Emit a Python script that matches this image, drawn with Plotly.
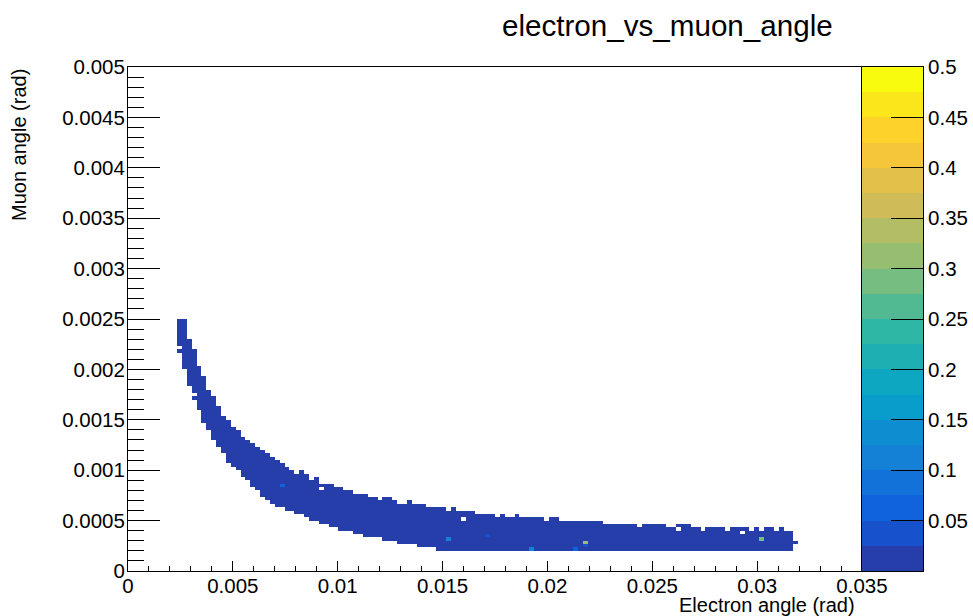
import numpy as np
import plotly.graph_objects as go

# ---------------- data ----------------
TITLE = "electron_vs_muon_angle"
X_TITLE = "Electron angle (rad)"
Y_TITLE = "Muon angle (rad)"

NBINS_X, X_MIN, X_MAX = 150, 0.0, 0.035
NBINS_Y, Y_MIN, Y_MAX = 150, 0.0, 0.005

# occupied band: per x-bin column, first filled y-bin and (exclusive) top y-bin
FIRST_COL = 10
BAND_LOW = [67, 60, 55, 53, 48, 44, 42, 39, 37, 35,
            32, 31, 30, 28, 27, 25, 24, 22, 21, 20,
            19, 19, 18, 18, 17, 17, 16, 15, 15, 14,
            14, 13, 13, 12, 12, 12, 11, 11, 10, 10,
            10, 10, 9, 9, 9, 8, 8, 8, 8, 7,
            7, 7, 7] + [6] * 73 + [8]
BAND_HIGH = [75, 75, 69, 66, 61, 58, 54, 52, 49, 46,
             45, 43, 42, 40, 39, 38, 37, 36, 35, 34,
             33, 32, 31, 30, 29, 30, 29, 27, 28, 26,
             26, 26, 25, 25, 24, 24, 23, 23, 23, 22,
             22, 21, 22, 22, 21, 20, 20, 21, 20, 20,
             20, 19, 19, 19, 19, 18, 19, 18, 18, 18,
             18, 17, 17, 17, 17, 16, 17, 16, 16, 17,
             16, 16, 16, 16, 16, 15, 16, 16, 15, 15,
             15, 15, 15, 15, 15, 15, 15, 14, 14, 14,
             14, 14, 14, 14, 13, 14, 14, 14, 14, 14,
             13, 13, 14, 14, 14, 13, 13, 12, 13, 13,
             13, 13, 12, 13, 13, 13, 13, 12, 13, 12,
             13, 13, 12, 13, 12, 12, 9]
BASE_VALUE = 0.01
EXTRA_CELLS = [(10, 65), (13, 51)]
HOLES = [(39, 24), (68, 15), (112, 12), (125, 11)]
SPECIAL_CELLS = [(31, 25, 0.055), (65, 9, 0.11), (73, 10, 0.04), (82, 6, 0.12),
                 (91, 6, 0.06), (93, 8, 0.31), (93, 7, 0.03), (129, 9, 0.29)]

X_TICKS = [0, 0.005, 0.01, 0.015, 0.02, 0.025, 0.03, 0.035]
X_TICK_LABELS = ["0", "0.005", "0.01", "0.015", "0.02", "0.025", "0.03", "0.035"]
Y_TICKS = [0, 0.0005, 0.001, 0.0015, 0.002, 0.0025, 0.003, 0.0035, 0.004, 0.0045, 0.005]
Y_TICK_LABELS = ["0", "0.0005", "0.001", "0.0015", "0.002", "0.0025", "0.003",
                 "0.0035", "0.004", "0.0045", "0.005"]
Z_MIN, Z_MAX, N_LEVELS = 0.0, 0.5, 20
Z_TICKS = [0.05, 0.1, 0.15, 0.2, 0.25, 0.3, 0.35, 0.4, 0.45, 0.5]
Z_TICK_LABELS = ["0.05", "0.1", "0.15", "0.2", "0.25", "0.3", "0.35", "0.4", "0.45", "0.5"]

# ---------------- histogram ----------------
x_edges = np.linspace(X_MIN, X_MAX, NBINS_X + 1)
y_edges = np.linspace(Y_MIN, Y_MAX, NBINS_Y + 1)
z = np.full((NBINS_Y, NBINS_X), np.nan)
for n, (lo, hi) in enumerate(zip(BAND_LOW, BAND_HIGH)):
    z[lo:hi, FIRST_COL + n] = BASE_VALUE
for c, r in EXTRA_CELLS:
    z[r, c] = BASE_VALUE
for c, r in HOLES:
    z[r, c] = np.nan
for c, r, v in SPECIAL_CELLS:
    z[r, c] = v
z_list = [[None if np.isnan(v) else float(v) for v in row] for row in z]

# ---------------- ROOT kBird palette, 20 contour levels ----------------
stops = [0.0, 0.125, 0.25, 0.375, 0.5, 0.625, 0.75, 0.875, 1.0]
red = [0.2082, 0.0592, 0.0780, 0.0232, 0.1802, 0.5301, 0.8186, 0.9956, 0.9764]
green = [0.1664, 0.3599, 0.5041, 0.6419, 0.7178, 0.7492, 0.7328, 0.7862, 0.9832]
blue = [0.5293, 0.8684, 0.8385, 0.7914, 0.6425, 0.4662, 0.3499, 0.1968, 0.0539]
colorscale = []
for i in range(N_LEVELS):
    f = min((i + 0.99) / N_LEVELS, 1.0)
    rgb = [int(round(255 * np.interp(f, stops, ch))) for ch in (red, green, blue)]
    col = "rgb(%d,%d,%d)" % tuple(rgb)
    colorscale.append([i / N_LEVELS, col])
    colorscale.append([(i + 1) / N_LEVELS, col])

# palette column (z axis) built from the level edges
level_edges = np.linspace(Z_MIN, Z_MAX, N_LEVELS + 1)
level_centers = [[float(v)] for v in 0.5 * (level_edges[:-1] + level_edges[1:])]

FONT = "Liberation Sans, Arial, Helvetica, sans-serif"
W, H = 973, 616
FL, FR, FT, FB = 128, 862, 67, 571   # frame in pixels
PR = 923                              # palette right edge

fig = go.Figure()
fig.add_trace(go.Heatmap(
    x=x_edges, y=y_edges, z=z_list, xaxis="x", yaxis="y",
    zmin=Z_MIN, zmax=Z_MAX, colorscale=colorscale, zsmooth=False,
    showscale=False, hoverinfo="skip",
))
fig.add_trace(go.Heatmap(
    x=[0, 1], y=level_edges, z=level_centers, xaxis="x2", yaxis="y2",
    zmin=Z_MIN, zmax=Z_MAX, colorscale=colorscale, zsmooth=False,
    showscale=False, hoverinfo="skip",
))

xdom = [FL / W, FR / W]
ydom = [(H - FB) / H, (H - FT) / H]
fig.update_layout(
    width=W, height=H,
    margin=dict(l=0, r=0, t=0, b=0, autoexpand=False),
    paper_bgcolor="white", plot_bgcolor="white",
    showlegend=False,
    xaxis=dict(
        domain=xdom, anchor="y", range=[X_MIN, X_MAX], automargin=False,
        tickvals=X_TICKS, ticktext=X_TICK_LABELS,
        ticks="inside", ticklen=10, tickcolor="black", tickwidth=1,
        minor=dict(dtick=0.001, tick0=0, ticks="inside", ticklen=5, tickcolor="black", showgrid=False),
        showline=True, linecolor="black", linewidth=1, mirror=True,
        showgrid=False, zeroline=False, ticklabelstandoff=-4,
        tickfont=dict(family=FONT, size=20.5, color="black"),
    ),
    yaxis=dict(
        domain=ydom, anchor="x", range=[Y_MIN, Y_MAX], automargin=False,
        tickvals=Y_TICKS, ticktext=Y_TICK_LABELS,
        ticks="inside", ticklen=32, tickcolor="black", tickwidth=1,
        minor=dict(dtick=0.0001, tick0=0, ticks="inside", ticklen=16, tickcolor="black", showgrid=False),
        showline=True, linecolor="black", linewidth=1, mirror=True,
        showgrid=False, zeroline=False, ticklabelstandoff=-2,
        tickfont=dict(family=FONT, size=20.5, color="black"),
    ),
    xaxis2=dict(
        domain=[FR / W, PR / W], anchor="y2", range=[0, 1], automargin=False,
        showticklabels=False, ticks="", showgrid=False, zeroline=False,
        showline=True, linecolor="black", linewidth=1, mirror=True,
    ),
    yaxis2=dict(
        domain=ydom, anchor="x2", side="right", range=[Z_MIN, Z_MAX], automargin=False,
        tickvals=Z_TICKS, ticktext=Z_TICK_LABELS,
        ticks="inside", ticklen=32, tickcolor="black", tickwidth=1,
        showline=True, linecolor="black", linewidth=1, mirror=True,
        showgrid=False, zeroline=False, ticklabelstandoff=0,
        tickfont=dict(family=FONT, size=20.5, color="black"),
    ),
)
fig.add_annotation(text=TITLE, xref="paper", yref="paper",
                   x=667 / W, xanchor="center", y=1 - 25 / H, yanchor="middle",
                   showarrow=False, font=dict(family=FONT, size=29.6, color="black"))
fig.add_annotation(text=X_TITLE, xref="paper", yref="paper",
                   x=857 / W, xanchor="right", y=1 - 605 / H, yanchor="middle",
                   showarrow=False, font=dict(family=FONT, size=20, color="black"))
fig.add_annotation(text=Y_TITLE, xref="paper", yref="paper", textangle=-90,
                   x=19 / W, xanchor="center", y=1 - FT / H, yanchor="top",
                   showarrow=False, font=dict(family=FONT, size=20, color="black"))

fig.write_html(
    "out.html",
    config={"displayModeBar": False},
    post_script="document.body.style.margin='0';document.body.style.padding='0';"
                "document.body.style.overflow='hidden';",
)
